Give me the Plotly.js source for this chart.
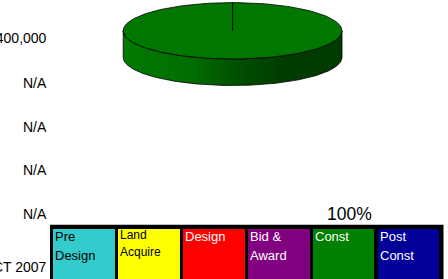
<!DOCTYPE html>
<html>
<head>
<meta charset="utf-8">
<script src="https://cdn.plot.ly/plotly-3.0.1.min.js"></script>
<style>
  html, body { margin: 0; padding: 0; background: #ffffff; overflow: hidden; }
  #chart { width: 448px; height: 279px; }
</style>
</head>
<body>
<div id="chart"></div>
<script>
// ---------------- data ----------------
var phases      = ['Pre Design', 'Land Acquire', 'Design', 'Bid & Award', 'Const', 'Post Const'];
var phaseLabels = ['Pre<br>Design', 'Land<br>Acquire', 'Design', 'Bid &<br>Award', 'Const', 'Post<br>Const'];
var phaseSpend  = [0, 0, 0, 0, 400000, 0];
var rowLabels   = ['$400,000', 'N/A', 'N/A', 'N/A', 'N/A', 'OCT 2007'];

// ---------------- styles ----------------
var phaseColors = ['#33CCCC', '#FFFF00', '#FF0000', '#800080', '#008000', '#000099'];
var textColors  = ['#000000', '#000000', '#FFFFFF', '#FFFFFF', '#FFFFFF', '#FFFFFF'];
var labelSizes  = [13, 12, 13, 13, 13, 13];
var labelLeads  = [19, 16.7, 19, 19, 19, 19];
var labelTopShift = [1.6, 2.4, 1.6, 1.6, 1.6, 1.6];
var pieTop      = '#007800';
var FONT = 'Liberation Sans, Arial, sans-serif';

var W = 448, H = 279;
// pie geometry (pixel units in the pie axes)
var cx = 232.6, cy = 30.8, rx = 109.4, ry = 28.2, depth = 26.5;

var total = phaseSpend.reduce(function (a, b) { return a + b; }, 0);
var sideTraces = [], topTraces = [];
var pctAnnots = [];
var ang = 0;
function px(t) { return cx + rx * Math.sin(t); }
function py(t) { return cy - ry * Math.cos(t); }
phaseSpend.forEach(function (v, i) {
  if (v <= 0) return;
  var a0 = ang, a1 = ang + 2 * Math.PI * v / total;
  ang = a1;
  var N = 180, k, t;
  var xs = [cx], ys = [cy];
  for (k = 0; k <= N; k++) { t = a0 + (a1 - a0) * k / N; xs.push(px(t)); ys.push(py(t)); }
  xs.push(cx); ys.push(cy);
  topTraces.push({
    type: 'scatter', mode: 'lines', x: xs, y: ys, xaxis: 'x', yaxis: 'y',
    fill: 'toself', fillcolor: pieTop,
    line: { color: '#000000', width: 0.8 }, hoverinfo: 'skip', showlegend: false
  });
  var s0 = Math.max(a0, Math.PI / 2), s1 = Math.min(a1, 3 * Math.PI / 2);
  if (s1 > s0) {
    var sx = [], sy = [];
    for (k = 0; k <= N; k++) { t = s0 + (s1 - s0) * k / N; sx.push(px(t)); sy.push(py(t)); }
    for (k = N; k >= 0; k--) { t = s0 + (s1 - s0) * k / N; sx.push(px(t)); sy.push(py(t) + depth); }
    sx.push(sx[0]); sy.push(sy[0]);
    sideTraces.push({
      type: 'scatter', mode: 'lines', x: sx, y: sy, xaxis: 'x', yaxis: 'y',
      fill: 'toself',
      fillgradient: { type: 'horizontal',
        colorscale: [[0, '#007a00'], [0.3, '#006e00'], [0.55, '#004c00'], [0.75, '#003a00'], [1, '#003c00']] },
      line: { color: '#000000', width: 0.8 }, hoverinfo: 'skip', showlegend: false
    });
  }
  pctAnnots.push({
    xref: 'x2', yref: 'y2', x: phases[i], y: 1, xanchor: 'center', yanchor: 'bottom',
    xshift: 5.6, yshift: 3.0, showarrow: false,
    text: Math.round(100 * v / total) + '%',
    font: { family: FONT, size: 17.5, color: '#000000' }
  });
});
var traces = [].concat(sideTraces, topTraces);

// key subplot geometry (px)
var kx0 = 50, kx1 = 443.7, pitch = 64.93, gapPx = 3.5;
var cellLeft = 53.3;             // inner left edge of first cell
var kTopOuter = 224.7, kTopInner = 228.5;
var xLo = -0.5 - (cellLeft - gapPx / 2 - kx0) / pitch;
var xHi = xLo + (kx1 - kx0) / pitch;
var yDomTop = 0.2;
var Hd = H * yDomTop, topPx = H - Hd;
var yHi = (H - topPx) / (H - kTopInner);   // so that y=1 sits at kTopInner
var yOuter = (H - kTopOuter) / (H - kTopInner);

// phase key as bars
traces.push({
  type: 'bar', x: phases, y: phases.map(function () { return 1; }), width: 1 - gapPx / pitch,
  xaxis: 'x2', yaxis: 'y2',
  marker: { color: phaseColors, line: { width: 0 } },
  hoverinfo: 'skip', showlegend: false
});

var annotations = [];
phaseLabels.forEach(function (lab, i) {
  lab.split('<br>').forEach(function (line, j) {
    annotations.push({
      xref: 'x2', yref: 'y2', x: phases[i], y: 1, xanchor: 'left', yanchor: 'top',
      xshift: -(pitch - gapPx) / 2 - 0.3, yshift: labelTopShift[i] - j * labelLeads[i], showarrow: false,
      text: line, align: 'left',
      font: { family: FONT, size: labelSizes[i], color: textColors[i] }
    });
  });
});
annotations = annotations.concat(pctAnnots);

var rowBaselines = [44.3, 88.7, 132.5, 176.4, 220.3, 273.3];
rowLabels.forEach(function (lab, i) {
  annotations.push({
    xref: 'paper', yref: 'paper', x: 48.6 / W, y: 1 - (rowBaselines[i] + 4.0) / H,
    xanchor: 'right', yanchor: 'bottom', showarrow: false, text: lab,
    font: { family: FONT, size: 14, color: '#000000' }
  });
});

var layout = {
  width: W, height: H,
  margin: { l: 0, r: 0, t: 0, b: 0, pad: 0 },
  paper_bgcolor: '#ffffff', plot_bgcolor: 'rgba(0,0,0,0)',
  showlegend: false,
  xaxis: { domain: [0, 1], range: [0, W], visible: false, fixedrange: true },
  yaxis: { domain: [0, 1], range: [H, 0], visible: false, fixedrange: true },
  xaxis2: { domain: [kx0 / W, kx1 / W], range: [xLo, xHi], visible: false, anchor: 'y2', type: 'category', fixedrange: true },
  yaxis2: { domain: [0, yDomTop], range: [0, yHi], visible: false, anchor: 'x2', fixedrange: true },
  bargap: 0,
  shapes: [{
    type: 'rect', xref: 'x2', yref: 'y2', layer: 'below',
    x0: xLo, x1: xHi, y0: 0, y1: yOuter,
    fillcolor: '#000000', line: { width: 0 }
  }],
  annotations: annotations
};

Plotly.newPlot('chart', traces, layout, { displayModeBar: false, staticPlot: true });
</script>
</body>
</html>
